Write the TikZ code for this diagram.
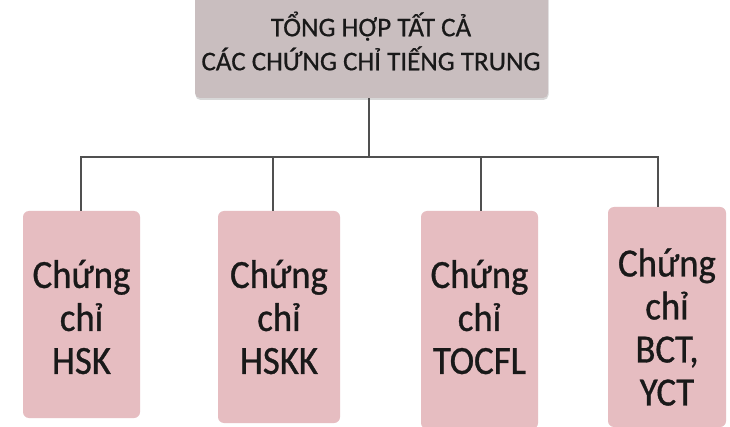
\documentclass[tikz,border=0pt]{standalone}
\usepackage{fontspec}
\setmainfont{Carlito}
\newfontfamily\topfont[FakeBold=0.6]{Carlito}
\newfontfamily\boxfont[FakeStretch=0.92,FakeBold=0.8]{Carlito}
\usetikzlibrary{shadows}
\definecolor{topgrey}{HTML}{C9BEBF}
\definecolor{boxpink}{HTML}{E6BDC1}
\definecolor{linegrey}{HTML}{505050}
\begin{document}
\begin{tikzpicture}[x=1pt,y=-1pt,
  topbox/.style={rectangle, rounded corners=5pt, fill=topgrey, draw=none, inner sep=0pt,
    drop shadow={opacity=0.3, shadow xshift=0.5pt, shadow yshift=-2pt}},
  pinkbox/.style={rectangle, rounded corners=6pt, fill=boxpink, draw=none, inner sep=0pt},
  toptxt/.style={align=center, font=\topfont\fontsize{27}{34}\selectfont, text=black!90, inner sep=0pt},
  boxtxt/.style={align=center, font=\boxfont\fontsize{40}{43}\selectfont, text=black!90, inner sep=0pt},
  link/.style={draw=linegrey, line width=1.1pt}]
\useasboundingbox (0,0) rectangle (730,427);
\fill[white] (0,0) rectangle (730,427);
% top box
\node[topbox, minimum width=353pt, minimum height=116pt] (top) at (371.5,40) {};
\node[toptxt] (toptext) at (371,41) {TỔNG HỢP TẤT CẢ\\CÁC CHỨNG CHỈ TIẾNG TRUNG};
% child boxes
\node[pinkbox, minimum width=117pt, minimum height=207pt] (b1) at (81.5,314.5) {};
\node[pinkbox, minimum width=122pt, minimum height=212pt] (b2) at (279,317) {};
\node[pinkbox, minimum width=117pt, minimum height=218pt] (b3) at (479.5,320) {};
\node[pinkbox, minimum width=118pt, minimum height=220pt] (b4) at (667,317) {};
\node[boxtxt] (t1) at (81.5,317) {Chứng\\chỉ\\HSK};
\node[boxtxt] (t2) at (279,317) {Chứng\\chỉ\\HSKK};
\node[boxtxt] (t3) at (479.5,317) {Chứng\\chỉ\\TOCFL};
\node[boxtxt] (t4) at (667,327) {Chứng\\chỉ\\BCT,\\YCT};
% connectors
\coordinate (j) at (369,157);
\coordinate (c1) at (81,211);
\coordinate (c2) at (273,211);
\coordinate (c3) at (481,211);
\coordinate (c4) at (658,207);
\draw[link] ([xshift=-2.5pt]top.south) -- (j);
\draw[link] (c1) -- (c1 |- j) -- (c4 |- j) -- (c4);
\draw[link] (c2) -- (c2 |- j);
\draw[link] (c3) -- (c3 |- j);
\end{tikzpicture}
\end{document}
